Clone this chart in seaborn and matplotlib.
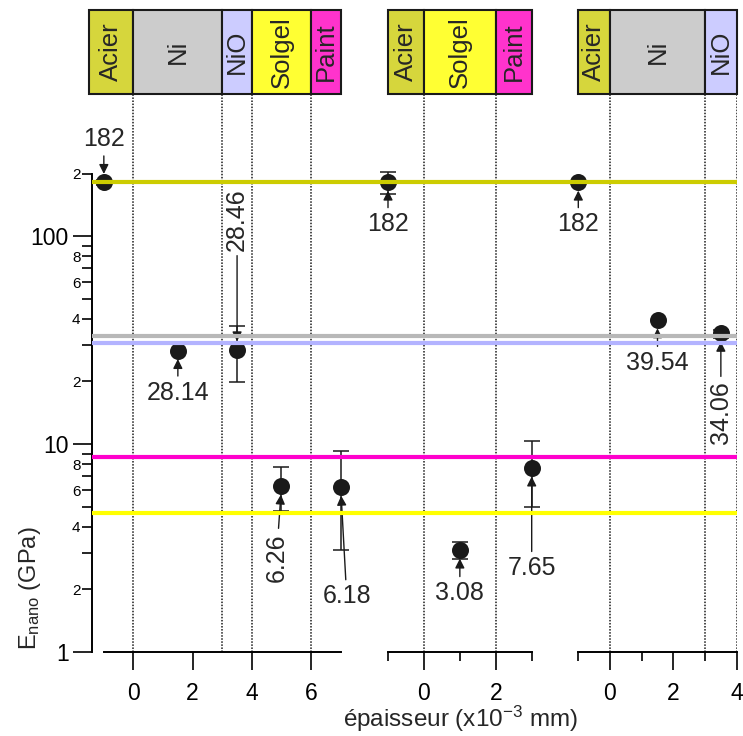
import numpy as np
import pandas as pd
import matplotlib
matplotlib.use('Agg')
import matplotlib.pyplot as plt
import seaborn as sns
from matplotlib.patches import Rectangle

# Layer stacks shown above each panel (edges in x10^-3 mm)
stack1_names = ['Acier', 'Ni', 'NiO', 'Solgel', 'Paint']
stack1_edges = [-1.5, 0, 3, 4, 6, 7]
stack2_names = ['Acier', 'Solgel', 'Paint']
stack2_edges = [-1, 0, 2, 3]
stack3_names = ['Acier', 'Ni', 'NiO']
stack3_edges = [-1, 0, 3, 4]

layer_colors = {'Acier': '#d6d63c', 'Ni': '#cccccc', 'NiO': '#ccccff',
                'Solgel': '#ffff33', 'Paint': '#ff33cc'}

# Measured points
panel = [0, 0, 0, 0, 0, 1, 1, 1, 2, 2, 2]
thickness = [-1, 1.5, 3.5, 5, 7, -1, 1, 3, -1, 1.5, 3.5]
e_nano = [182, 28.14, 28.46, 6.26, 6.18, 182, 3.08, 7.65, 182, 39.54, 34.06]
e_err = [5, 0, 8.5, 1.5, 3.1, 22, 0.29, 2.65, 0, 0, 1.5]
point_labels = ['182', '28.14', '28.46', '6.26', '6.18', '182', '3.08', '7.65',
                '182', '39.54', '34.06']

# Reference moduli (horizontal lines)
ref_values = [182, 33.2, 30.7, 8.7, 4.64]
ref_colors = ['#cccc00', '#b8b8b8', '#b3b3ff', '#ff00cc', '#ffff00']

# Axis ticks per panel
major_x = [[0, 2, 4, 6], [0, 2], [0, 2, 4]]
minor_x = [[], [-1, 1, 3], [-1, 1, 3]]
divider_x = [[0, 3, 4, 6], [0, 2], [0, 3, 4]]

df = pd.DataFrame({'panel': panel, 'x': thickness, 'E': e_nano, 'err': e_err,
                   'label': point_labels})

# label offsets in pixels (dx, dy up) and rotation
label_pos = [(0, 43, 0), (0, -42, 0), (0, 130, 90), (-5, -71, 90), (6, -109, 0),
             (0, -42, 0), (0, -43, 0), (0, -100, 0),
             (0, -42, 0), (0, -43, 0), (0, -79, 90)]

sns.set_theme(style='ticks')
plt.rcParams['font.family'] = ['Liberation Sans', 'DejaVu Sans']
plt.rcParams['mathtext.default'] = 'regular'
plt.rcParams['axes.edgecolor'] = 'black'
plt.rcParams['xtick.color'] = 'black'
plt.rcParams['ytick.color'] = 'black'

W, H = 743, 736
fig = plt.figure(figsize=(W / 100, H / 100), dpi=100)


def add_axes_px(x0, x1, ytop, ybot):
    return fig.add_axes([x0 / W, 1 - ybot / H, (x1 - x0) / W, (ybot - ytop) / H])


ytop_val = 10 ** ((651.7 - 95) / 207.7)
panel_px = [(92, 340.7), (388, 531.7), (578.3, 736.7)]
panel_xlim = [(-1.4, 7), (-1, 3), (-1, 4)]
spine_x = [(-1, 7), (-1, 3), (-1, 4)]

for i in range(3):
    ax = add_axes_px(panel_px[i][0], panel_px[i][1], 95, 651.7)
    ax.set_yscale('log')
    ax.set_ylim(1, ytop_val)
    ax.set_xlim(*panel_xlim[i])
    ax.patch.set_visible(False)
    for d in divider_x[i]:
        ax.axvline(d, color='k', lw=1.1, ls=(0, (1, 1)), zorder=1)

    sub = df[df['panel'] == i]
    eb = sub[sub['err'] > 0]
    cont = ax.errorbar(eb['x'], eb['E'], yerr=eb['err'], fmt='none', ecolor='k',
                       elinewidth=1.1, capsize=6, capthick=1.1, zorder=3)
    for art in cont.lines[1]:
        art.set_clip_on(False)
    for art in cont.lines[2]:
        art.set_clip_on(False)
    sns.scatterplot(data=sub, x='x', y='E', ax=ax, color='k', s=150,
                    edgecolor='k', linewidth=0, zorder=4, legend=False,
                    clip_on=False)

    for idx, row in sub.iterrows():
        dx, dy, rot = label_pos[idx]
        ax.annotate(row['label'], xy=(row['x'], row['E']),
                    xytext=(dx * 0.72, dy * 0.72), textcoords='offset points',
                    ha='center', va='center', rotation=rot, fontsize=18,
                    arrowprops=dict(arrowstyle='-|>', color='k', lw=1,
                                    shrinkA=1, shrinkB=6, mutation_scale=14),
                    zorder=5, annotation_clip=False)

    ax.set_xlabel('')
    ax.set_ylabel('')
    ax.spines['top'].set_visible(False)
    ax.spines['right'].set_visible(False)
    ax.spines['bottom'].set_bounds(*spine_x[i])
    ax.spines['bottom'].set_linewidth(1.4)
    ax.set_xticks(major_x[i])
    ax.set_xticklabels([str(v) for v in major_x[i]])
    ax.set_xticks(minor_x[i], minor=True)
    ax.tick_params(axis='x', which='major', length=12.7, width=1.2, labelsize=16.5, pad=9)
    ax.tick_params(axis='x', which='minor', length=6.5, width=1.2)

    if i == 0:
        ax.spines['left'].set_bounds(1, 200)
        ax.spines['left'].set_linewidth(1.4)
        ax.set_yticks([1, 10, 100], ['1', '10', '100'])
        minor_vals = [2, 3, 4, 5, 6, 7, 8, 9, 20, 30, 40, 50, 60, 70, 80, 90, 200]
        minor_lab = ['2', '', '4', '', '6', '', '8', '', '2', '', '4', '', '6', '', '8', '', '2']
        ax.set_yticks(minor_vals, minor_lab, minor=True)
        ax.tick_params(axis='y', which='major', length=13.7, width=1.2, labelsize=16.5, pad=3)
        ax.tick_params(axis='y', which='minor', length=7.2, width=1.2, labelsize=11, pad=1)
    else:
        ax.spines['left'].set_visible(False)
        ax.tick_params(axis='y', which='both', left=False, labelleft=False)

# layer boxes
stacks = [(stack1_names, stack1_edges, 89, 340.7),
          (stack2_names, stack2_edges, 388, 531.7),
          (stack3_names, stack3_edges, 578.3, 736.7)]
for names, edges, x0, x1 in stacks:
    bx = add_axes_px(x0, x1, 10, 94)
    bx.set_xlim(edges[0], edges[-1])
    bx.set_ylim(0, 1)
    bx.axis('off')
    for j, name in enumerate(names):
        bx.add_patch(Rectangle((edges[j], 0), edges[j + 1] - edges[j], 1,
                               facecolor=layer_colors[name], edgecolor='k',
                               lw=1.5, clip_on=False))
        bx.text((edges[j] + edges[j + 1]) / 2, 0.5, name, rotation=90,
                ha='center', va='center', fontsize=18.5)

# reference lines drawn over everything
ov = add_axes_px(92, 737, 95, 651.7)
ov.set_yscale('log')
ov.set_ylim(1, ytop_val)
ov.set_xlim(0, 1)
for v, c in zip(ref_values, ref_colors):
    ov.axhline(v, color=c, lw=3)
ov.axis('off')
ov.set_zorder(10)

fig.text(460 / W, 1 - 719 / H, 'épaisseur (x10$^{-3}$ mm)', ha='center',
         va='center', fontsize=17.5)
fig.text(30 / W, 1 - 588 / H, 'E$_{nano}$ (GPa)', rotation=90, ha='center',
         va='center', fontsize=17)

fig.savefig('out.png', dpi=100)
